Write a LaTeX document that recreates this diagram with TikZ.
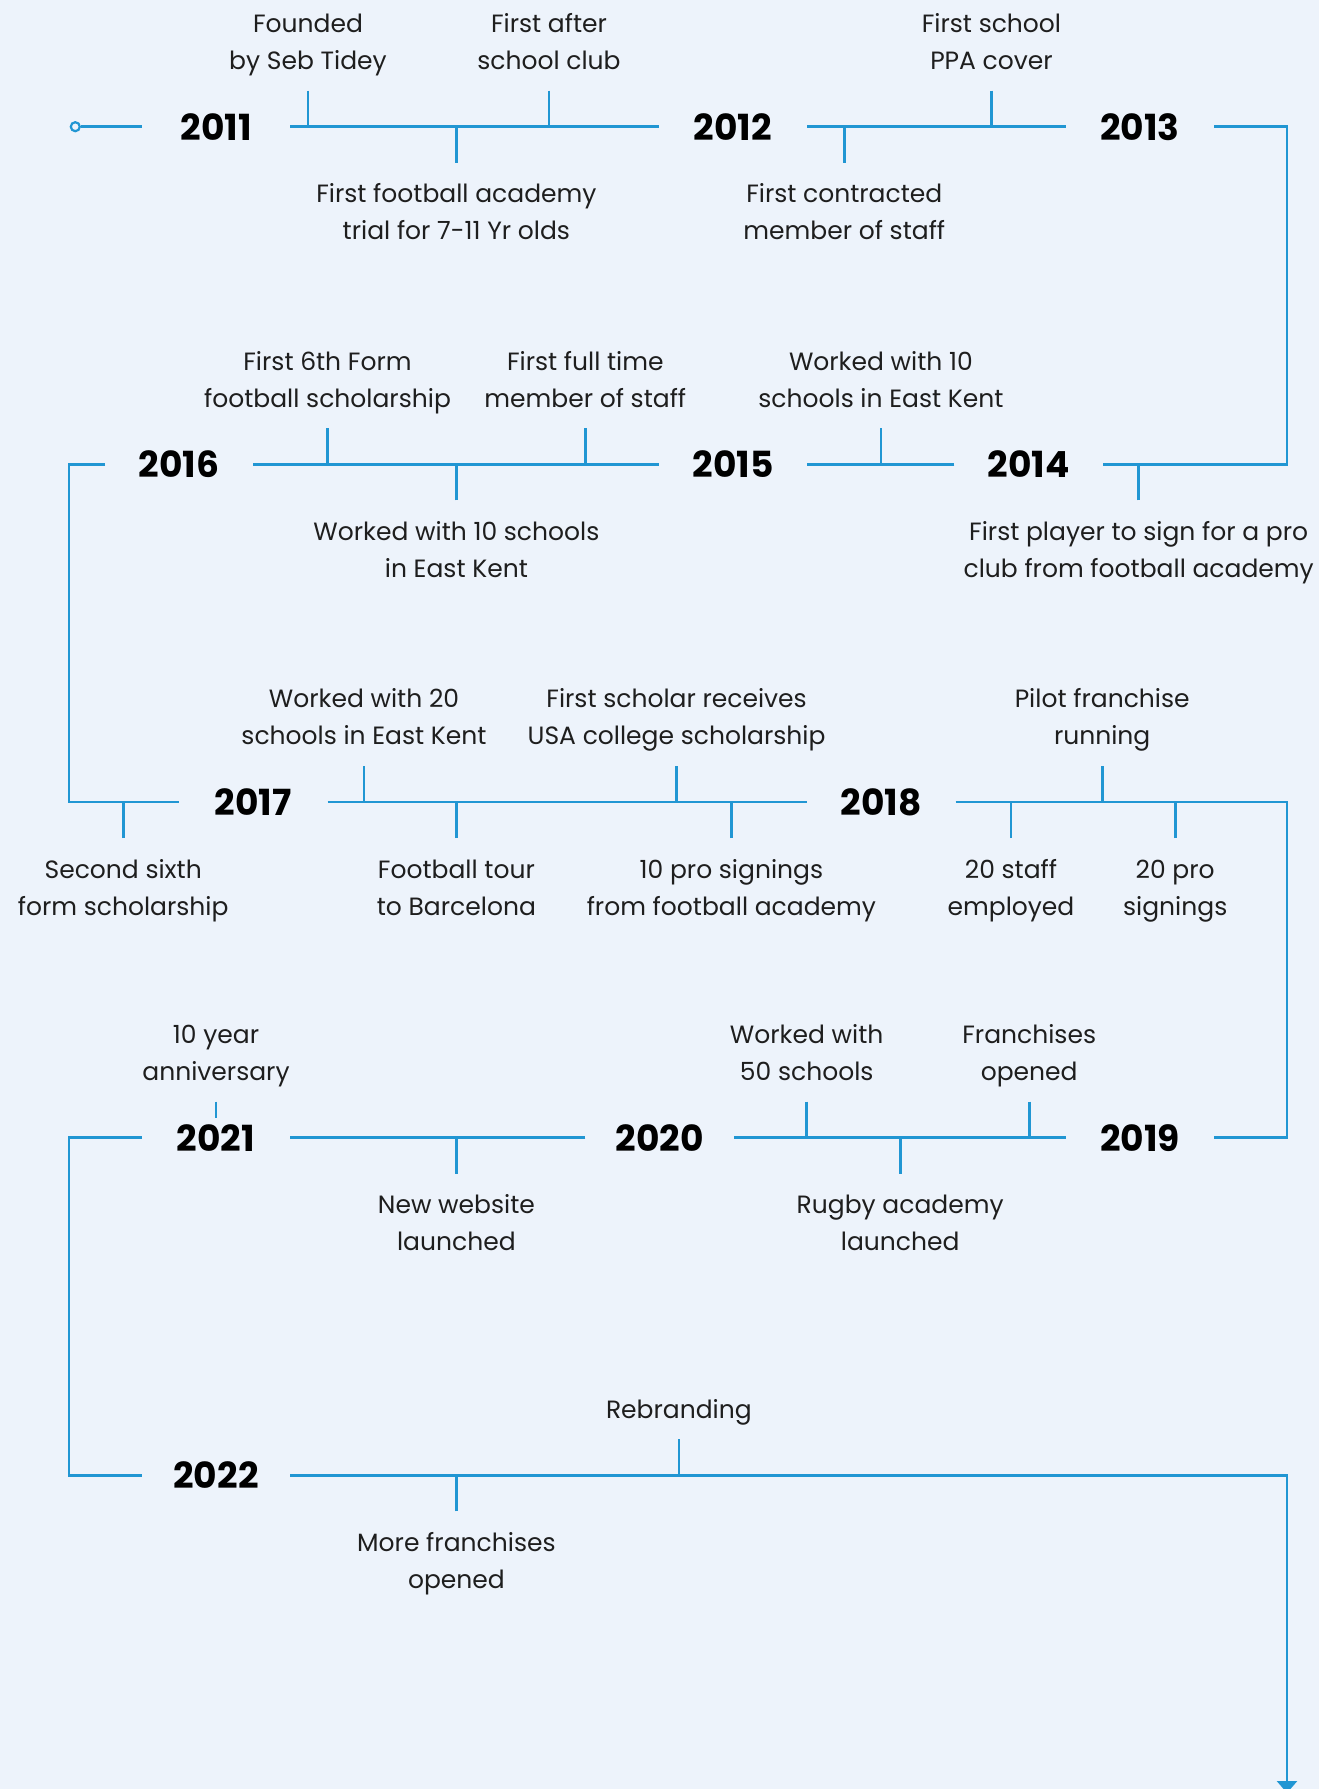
\documentclass[tikz,border=0pt]{standalone}
\usepackage{fontspec}
\setmainfont{Poppins}
\usetikzlibrary{arrows.meta,positioning}
\definecolor{tline}{RGB}{33,150,211}
\definecolor{paper}{RGB}{237,243,251}
\definecolor{ink}{RGB}{30,30,30}

\tikzset{
  yr/.style={font=\fontsize{36}{36}\selectfont\bfseries, text=black,
    minimum width=148pt, minimum height=39pt, inner sep=0pt},
  ev/.style={font=\fontsize{25}{37}\selectfont, align=center, text=ink,
    inner xsep=0pt, text height=55pt, text depth=6pt},
  evone/.style={text height=18pt},
  evup/.style={ev, anchor=south, inner ysep=15pt},
  evdown/.style={ev, anchor=north, inner ysep=22pt},
  tl/.style={tline, line width=2.6pt},
}

\begin{document}
\begin{tikzpicture}[x=1pt,y=-1pt]
\fill[paper] (0,0) rectangle (1319,1789);
\useasboundingbox (0,0) rectangle (1319,1789);

% years
\node[yr] (y2011) at (216,126.7) {2011};
\node[yr] (y2012) at (733,126.7) {2012};
\node[yr] (y2013) at (1140,126.7) {2013};
\node[yr] (y2014) at (1028.5,464.4) {2014};
\node[yr] (y2015) at (733,464.4) {2015};
\node[yr] (y2016) at (179.2,464.4) {2016};
\node[yr] (y2017) at (253.3,802.1) {2017};
\node[yr] (y2018) at (881.4,802.1) {2018};
\node[yr] (y2019) at (1140,1137.6) {2019};
\node[yr] (y2020) at (659.5,1137.6) {2020};
\node[yr] (y2021) at (216,1137.6) {2021};
\node[yr] (y2022) at (216,1475.3) {2022};

\coordinate (rt) at (1287,0);
\coordinate (lt) at (69,0);
\coordinate (finish) at (1287,1793);

% timeline
\node[circle, draw=tline, line width=2.2pt, fill=paper, minimum size=9pt, inner sep=0pt] (start) at (75.3,126.7) {};
\draw[tl] (start) -- (y2011);
\draw[tl] (y2011) -- (y2012);
\draw[tl] (y2012) -- (y2013);
\draw[tl] (y2013) -| (rt |- y2014) -- (y2014);
\draw[tl] (y2014) -- (y2015);
\draw[tl] (y2015) -- (y2016);
\draw[tl] (y2016) -| (lt |- y2017) -- (y2017);
\draw[tl] (y2017) -- (y2018);
\draw[tl] (y2018) -| (rt |- y2019) -- (y2019);
\draw[tl] (y2019) -- (y2020);
\draw[tl] (y2020) -- (y2021);
\draw[tl] (y2021) -| (lt |- y2022) -- (y2022);
\draw[tl,-{Triangle[width=20pt,length=12pt]}] (y2022) -| (finish);

% 2011 - 2013
\node[evup] (a1) at (308,90.7) {Founded\\by Seb Tidey};
\node[evdown] (a2) at (456.4,162.7) {First football academy\\trial for 7-11 Yr olds};
\node[evup] (a3) at (549,90.7) {First after\\school club};
\node[evdown] (a4) at (844.3,162.7) {First contracted\\member of staff};
\node[evup] (a5) at (991.5,90.7) {First school\\PPA cover};
\draw[tl] (a1.south) -- (a1.south |- y2011.center);
\draw[tl] (a2.north) -- (a2.north |- y2011.center);
\draw[tl] (a3.south) -- (a3.south |- y2011.center);
\draw[tl] (a4.north) -- (a4.north |- y2012.center);
\draw[tl] (a5.south) -- (a5.south |- y2012.center);

% 2014 - 2016
\node[evdown] (b1) at (1138.7,500.4) {First player to sign for a pro\\club from football academy};
\node[evup] (b2) at (880.9,428.4) {Worked with 10\\schools in East Kent};
\node[evup] (b3) at (585.3,428.4) {First full time\\member of staff};
\node[evdown] (b4) at (456.4,500.4) {Worked with 10 schools\\in East Kent};
\node[evup] (b5) at (327.5,428.4) {First 6th Form\\football scholarship};
\draw[tl] (b1.north) -- (b1.north |- y2014.center);
\draw[tl] (b2.south) -- (b2.south |- y2014.center);
\draw[tl] (b3.south) -- (b3.south |- y2015.center);
\draw[tl] (b4.north) -- (b4.north |- y2015.center);
\draw[tl] (b5.south) -- (b5.south |- y2015.center);

% 2017 - 2018
\node[evdown] (c1) at (123.2,838.1) {Second sixth\\form scholarship};
\node[evup] (c2) at (364,766.1) {Worked with 20\\schools in East Kent};
\node[evdown] (c3) at (456.4,838.1) {Football tour\\to Barcelona};
\node[evup] (c4) at (676.6,766.1) {First scholar receives\\USA college scholarship};
\node[evdown] (c5) at (731.4,838.1) {10 pro signings\\from football academy};
\node[evdown] (c6) at (1011,838.1) {20 staff\\employed};
\node[evup] (c7) at (1102.2,766.1) {Pilot franchise\\running};
\node[evdown] (c8) at (1175.2,838.1) {20 pro\\signings};
\draw[tl] (c1.north) -- (c1.north |- y2017.center);
\draw[tl] (c2.south) -- (c2.south |- y2017.center);
\draw[tl] (c3.north) -- (c3.north |- y2017.center);
\draw[tl] (c4.south) -- (c4.south |- y2017.center);
\draw[tl] (c5.north) -- (c5.north |- y2017.center);
\draw[tl] (c6.north) -- (c6.north |- y2018.center);
\draw[tl] (c7.south) -- (c7.south |- y2018.center);
\draw[tl] (c8.north) -- (c8.north |- y2018.center);

% 2019 - 2021
\node[evup] (d1) at (1029.2,1101.6) {Franchises\\opened};
\node[evdown] (d2) at (900.2,1173.6) {Rugby academy\\launched};
\node[evup] (d3) at (806.7,1101.6) {Worked with\\50 schools};
\node[evdown] (d4) at (456.4,1173.6) {New website\\launched};
\node[evup] (d5) at (216,1101.6) {10 year\\anniversary};
\draw[tl] (d1.south) -- (d1.south |- y2019.center);
\draw[tl] (d2.north) -- (d2.north |- y2019.center);
\draw[tl] (d3.south) -- (d3.south |- y2019.center);
\draw[tl] (d4.north) -- (d4.north |- y2020.center);
\draw[tl] (d5.south) -- (y2021.north);

% 2022
\node[evup,evone] (f1) at (678.9,1439.3) {Rebranding};
\node[evdown] (f2) at (456.4,1511.3) {More franchises\\opened};
\draw[tl] (f1.south) -- (f1.south |- y2022.center);
\draw[tl] (f2.north) -- (f2.north |- y2022.center);
\end{tikzpicture}
\end{document}
